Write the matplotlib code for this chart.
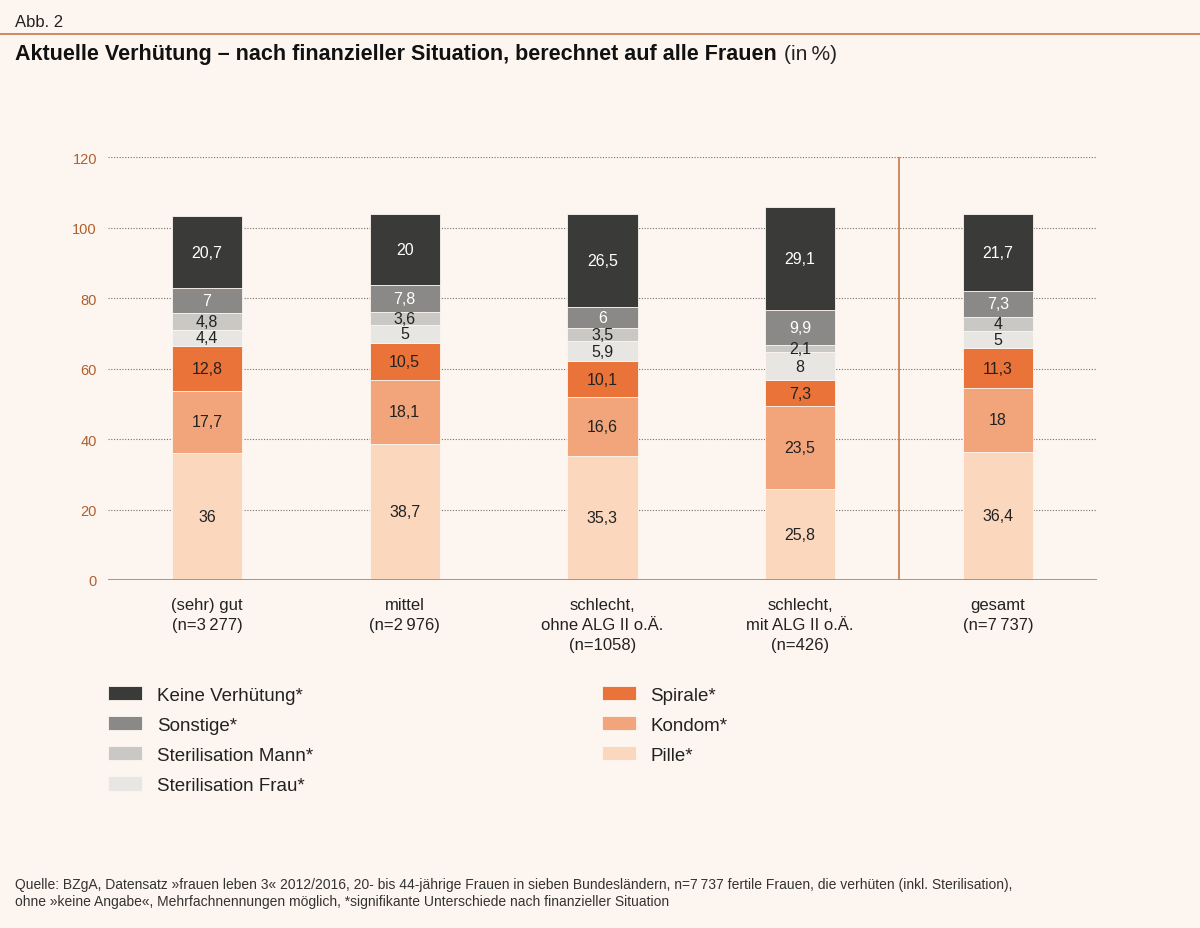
import numpy as np
import matplotlib.pyplot as plt

# --- Daten ---
kategorien = ["(sehr) gut\n(n=3\u2009277)", "mittel\n(n=2\u2009976)",
              "schlecht,\nohne ALG II o.Ä.\n(n=1058)",
              "schlecht,\nmit ALG II o.Ä.\n(n=426)", "gesamt\n(n=7\u2009737)"]

pille = [36, 38.7, 35.3, 25.8, 36.4]
kondom = [17.7, 18.1, 16.6, 23.5, 18]
spirale = [12.8, 10.5, 10.1, 7.3, 11.3]
steri_frau = [4.4, 5, 5.9, 8, 5]
steri_mann = [4.8, 3.6, 3.5, 2.1, 4]
sonstige = [7, 7.8, 6, 9.9, 7.3]
keine = [20.7, 20, 26.5, 29.1, 21.7]

serien = [
    ("Pille*", pille, "#fbd7bd", "#222222"),
    ("Kondom*", kondom, "#f2a57a", "#222222"),
    ("Spirale*", spirale, "#ea7339", "#222222"),
    ("Sterilisation Frau*", steri_frau, "#e7e6e3", "#222222"),
    ("Sterilisation Mann*", steri_mann, "#c9c8c5", "#222222"),
    ("Sonstige*", sonstige, "#8a8987", "white"),
    ("Keine Verhütung*", keine, "#3a3a38", "white"),
]

bg = "#fdf6f0"
orange_text = "#b0602c"
line_orange = "#c8784a"

plt.rcParams['font.family'] = ['Liberation Sans', 'DejaVu Sans']

fig = plt.figure(figsize=(12, 9.29), dpi=100, facecolor=bg)
ax = fig.add_axes([0.09, 0.3746, 0.824, 0.4553])
ax.set_facecolor(bg)

x = np.arange(len(kategorien))
bottom = np.zeros(len(kategorien))
handles = {}
for name, vals, col, tcol in serien:
    vals = np.array(vals, dtype=float)
    bars = ax.bar(x, vals, 0.355, bottom=bottom, color=col, edgecolor=bg,
                  linewidth=0.6, zorder=3, label=name)
    labels = [f"{v:g}".replace(".", ",") for v in vals]
    ax.bar_label(bars, labels=labels, label_type='center', color=tcol,
                 fontsize=11.5, zorder=4)
    bottom += vals
    handles[name] = bars

ax.set_xlim(-0.5, 4.5)
ax.set_ylim(0, 120)
ax.set_yticks(np.arange(0, 121, 20))
ax.tick_params(axis='y', length=0, pad=8, labelcolor=orange_text, labelsize=10.5)
ax.tick_params(axis='x', length=0, pad=12, labelsize=12)
ax.set_xticks(x)
ax.set_xticklabels(kategorien, linespacing=1.45, color="#222222")
for s in ax.spines.values():
    s.set_visible(False)
for yv in range(20, 121, 20):
    ax.axhline(yv, color="#7c6c62", linestyle=(0, (1, 1.5)), linewidth=0.8, zorder=1)
ax.axhline(0, color=line_orange, linewidth=1.2, zorder=5)
ax.axvline(3.5, color=line_orange, linewidth=1.2, zorder=5)

# --- Legende ---
links = ["Keine Verhütung*", "Sonstige*", "Sterilisation Mann*", "Sterilisation Frau*"]
rechts = ["Spirale*", "Kondom*", "Pille*"]
leg_kw = dict(frameon=False, fontsize=13.5, handlelength=1.8, handleheight=0.8,
              handletextpad=0.8, labelspacing=0.66, borderaxespad=0, borderpad=0,
              loc='upper left')
leg1 = fig.legend([handles[n] for n in links], links,
                  bbox_to_anchor=(0.09, 0.2605), **leg_kw)
leg2 = fig.legend([handles[n] for n in rechts], rechts,
                  bbox_to_anchor=(0.5015, 0.2605), **leg_kw)
for leg in (leg1, leg2):
    for t in leg.get_texts():
        t.set_color("#222222")

# --- Kopf ---
fig.text(0.0125, 0.976, "Abb. 2", fontsize=12, color="#222222", va='center')
fig.add_artist(plt.Line2D([0, 1], [0.9625, 0.9625], color=line_orange, linewidth=1.2))
titel = fig.text(0.0125, 0.941, "Aktuelle Verhütung – nach finanzieller Situation, berechnet auf alle Frauen",
                 fontsize=15.5, fontweight='bold', color="#111111", va='center')
fig.canvas.draw()
bb = titel.get_window_extent().transformed(fig.transFigure.inverted())
fig.text(bb.x1 + 0.006, 0.941, "(in\u2009%)", fontsize=15, color="#222222", va='center')

# --- Quelle ---
fig.text(0.0125, 0.055,
         "Quelle: BZgA, Datensatz »frauen leben 3« 2012/2016, 20- bis 44-jährige Frauen in sieben Bundesländern, "
         "n=7\u2009737 fertile Frauen, die verhüten (inkl. Sterilisation),\n"
         "ohne »keine Angabe«, Mehrfachnennungen möglich, *signifikante Unterschiede nach finanzieller Situation",
         fontsize=10, color="#333333", va='top', linespacing=1.25)

fig.savefig("out.png", dpi=100, facecolor=bg)
